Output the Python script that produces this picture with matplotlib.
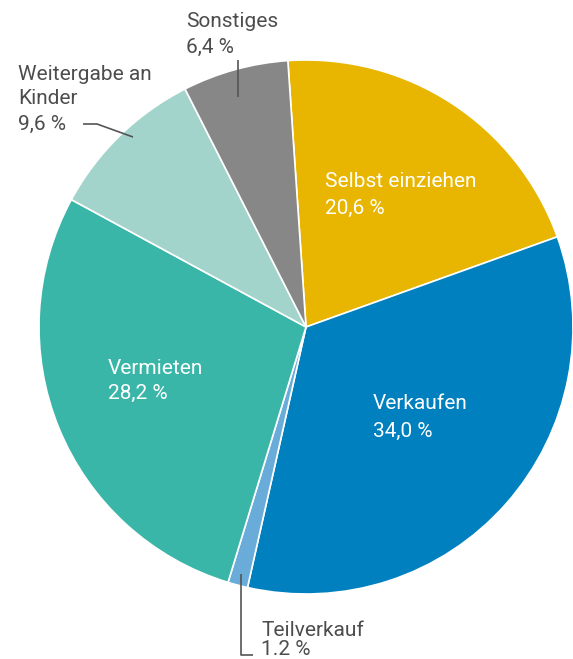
import matplotlib.pyplot as plt

labels = ["Selbst einziehen", "Verkaufen", "Teilverkauf", "Vermieten",
          "Weitergabe an\nKinder", "Sonstiges"]
values = [20.6, 34.0, 1.2, 28.2, 9.6, 6.4]
value_text = ["20,6 %", "34,0 %", "1.2 %", "28,2 %", "9,6 %", "6,4 %"]
colors = ["#E8B500", "#0080BE", "#6AACD9", "#3AB6A9", "#A2D4CC", "#878787"]

W, H = 573, 659
CX, CY, R = 306, 327, 267
TXT = "#4d4d4d"
plt.rcParams["font.family"] = ["Roboto", "DejaVu Sans"]

fig = plt.figure(figsize=(W / 100, H / 100), dpi=100)
ax = fig.add_axes([0, 0, 1, 1])
ax.pie(values, colors=colors, startangle=93.9, counterclock=False,
       center=(CX, H - CY), radius=R,
       wedgeprops=dict(edgecolor="white", linewidth=1.2))
ax.set_xlim(0, W)
ax.set_ylim(0, H)
ax.set_aspect("equal")
ax.axis("off")


def put(x, baselines, lines, color):
    # each line placed by its baseline (pixel coords from top)
    for yb, s in zip(baselines, lines):
        ax.text(x, H - yb, s, color=color, fontsize=15,
                ha="left", va="baseline")


def seg(xs, ys):
    ax.plot(xs, [H - y for y in ys], color="#555555", lw=1.2,
            solid_capstyle="butt")


# inside labels
put(325, [187, 214], ["Selbst einziehen", value_text[0]], "white")
put(373, [409, 437], ["Verkaufen", value_text[1]], "white")
put(108, [374, 399], ["Vermieten", value_text[3]], "white")

# outside labels
put(186, [27, 53], ["Sonstiges", value_text[5]], TXT)
put(18, [80, 104, 130], labels[4].split("\n") + [value_text[4]], TXT)
put(261, [636, 655], ["Teilverkauf", value_text[2]], TXT)

# leader lines
seg([238, 238], [60, 97])
seg([83, 97, 133], [124, 124, 137])
seg([241, 241, 253], [574, 655, 655])

fig.savefig("out.png", dpi=100)
